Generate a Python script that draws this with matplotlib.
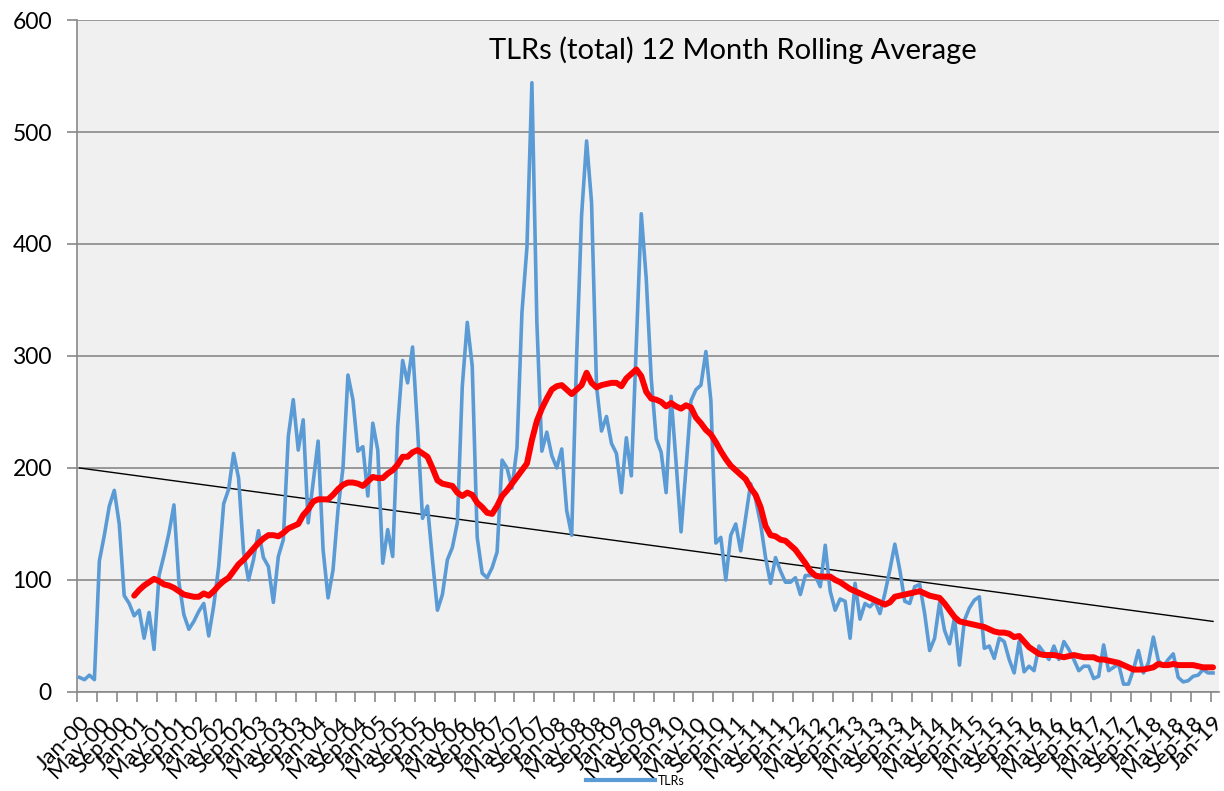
import numpy as np
import matplotlib.pyplot as plt
from matplotlib.lines import Line2D

plt.rcParams['font.family'] = ['Lato', 'DejaVu Sans']

# monthly TLRs totals, Jan-00 .. Jan-19
tlrs_2000 = [13, 11, 15, 11, 117, 140, 166, 180, 150, 86, 79, 68]
tlrs_2001 = [73, 48, 71, 38, 104, 122, 142, 167, 98, 69, 56, 63]
tlrs_2002 = [72, 79, 50, 77, 112, 168, 181, 213, 191, 125, 100, 118]
tlrs_2003 = [144, 120, 112, 80, 121, 136, 228, 261, 216, 243, 151, 187]
tlrs_2004 = [224, 127, 84, 109, 163, 200, 283, 261, 215, 219, 175, 240]
tlrs_2005 = [216, 115, 145, 121, 237, 296, 276, 308, 235, 155, 166, 118]
tlrs_2006 = [73, 87, 118, 129, 151, 273, 330, 291, 138, 106, 102, 111]
tlrs_2007 = [125, 207, 200, 182, 218, 339, 397, 544, 330, 215, 232, 211]
tlrs_2008 = [200, 217, 162, 140, 300, 426, 492, 437, 273, 233, 246, 222]
tlrs_2009 = [213, 178, 227, 193, 310, 427, 369, 280, 226, 214, 178, 264]
tlrs_2010 = [205, 143, 200, 260, 270, 274, 304, 260, 133, 138, 100, 140]
tlrs_2011 = [150, 126, 156, 186, 172, 150, 120, 97, 120, 108, 98, 98]
tlrs_2012 = [102, 87, 104, 104, 104, 94, 131, 90, 73, 83, 81, 48]
tlrs_2013 = [97, 65, 79, 76, 81, 70, 88, 109, 132, 109, 81, 79]
tlrs_2014 = [94, 96, 70, 37, 48, 80, 55, 43, 66, 24, 64, 75]
tlrs_2015 = [82, 85, 39, 41, 30, 48, 45, 29, 17, 45, 18, 23]
tlrs_2016 = [19, 41, 35, 29, 41, 29, 45, 38, 29, 19, 23, 23]
tlrs_2017 = [12, 14, 42, 19, 22, 25, 7, 7, 20, 37, 17, 26]
tlrs_2018 = [49, 28, 23, 29, 34, 13, 9, 10, 14, 15, 20, 17]
tlrs_2019 = [17]

# 12 month rolling average, starts Dec-00
roll_2000 = [86]
roll_2001 = [91, 95, 98, 101, 99, 96, 95, 93, 90, 87, 86, 85]
roll_2002 = [85, 88, 86, 90, 95, 99, 102, 108, 114, 118, 123, 128]
roll_2003 = [133, 137, 140, 140, 139, 142, 146, 148, 150, 158, 163, 170]
roll_2004 = [172, 172, 172, 176, 181, 185, 187, 187, 186, 184, 188, 192]
roll_2005 = [191, 191, 195, 198, 203, 210, 210, 214, 216, 213, 210, 200]
roll_2006 = [189, 186, 185, 184, 178, 175, 178, 176, 169, 165, 160, 159]
roll_2007 = [166, 175, 180, 186, 192, 198, 204, 225, 242, 253, 262, 270]
roll_2008 = [273, 274, 270, 266, 270, 274, 285, 276, 272, 274, 275, 276]
roll_2009 = [276, 273, 280, 284, 288, 282, 268, 262, 261, 259, 255, 258]
roll_2010 = [255, 253, 256, 254, 245, 240, 234, 230, 223, 215, 208, 202]
roll_2011 = [198, 194, 190, 182, 176, 165, 148, 140, 139, 136, 135, 131]
roll_2012 = [127, 121, 115, 108, 104, 103, 103, 103, 100, 98, 95, 92]
roll_2013 = [90, 88, 86, 84, 82, 80, 78, 80, 85, 86, 87, 88]
roll_2014 = [89, 90, 88, 86, 85, 84, 79, 73, 67, 63, 62, 61]
roll_2015 = [60, 59, 58, 56, 54, 53, 53, 52, 49, 50, 45, 40]
roll_2016 = [37, 34, 33, 33, 33, 32, 31, 32, 33, 32, 31, 31]
roll_2017 = [31, 29, 29, 28, 27, 26, 24, 22, 20, 20, 20, 21]
roll_2018 = [22, 25, 24, 24, 25, 24, 24, 24, 24, 23, 22, 22]
roll_2019 = [22]

# linear trendline end values
trend_start, trend_end = 200, 63

tick_labels = [f'{m}-{y:02d}' for y in range(19) for m in ('Jan', 'May', 'Sep')] + ['Jan-19']

tlrs = (tlrs_2000 + tlrs_2001 + tlrs_2002 + tlrs_2003 + tlrs_2004 + tlrs_2005
        + tlrs_2006 + tlrs_2007 + tlrs_2008 + tlrs_2009 + tlrs_2010 + tlrs_2011
        + tlrs_2012 + tlrs_2013 + tlrs_2014 + tlrs_2015 + tlrs_2016 + tlrs_2017
        + tlrs_2018 + tlrs_2019)
roll = (roll_2000 + roll_2001 + roll_2002 + roll_2003 + roll_2004 + roll_2005
        + roll_2006 + roll_2007 + roll_2008 + roll_2009 + roll_2010 + roll_2011
        + roll_2012 + roll_2013 + roll_2014 + roll_2015 + roll_2016 + roll_2017
        + roll_2018 + roll_2019)

x = np.arange(len(tlrs))
x_roll = np.arange(len(tlrs) - len(roll), len(tlrs))

grid_col = '#898989'

fig = plt.figure(figsize=(12.24, 7.91), dpi=100)
ax = fig.add_axes([0.0629, 0.1252, 0.9330, 0.8495])
ax.set_facecolor('#F0F0F0')

ax.plot(x, tlrs, color='#5B9BD5', lw=2.6, solid_joinstyle='round', zorder=3)
ax.plot(x_roll, roll, color='#FF0000', lw=4.3, solid_joinstyle='round',
        solid_capstyle='round', zorder=4)
ax.plot([x[0], x[-1]], [trend_start, trend_end], color='black', lw=1.0, zorder=2)

ax.set_ylim(0, 600)
ax.set_xlim(-0.5, len(tlrs) + 0.2)
ax.set_yticks(range(0, 601, 100))
ax.yaxis.grid(True, color=grid_col, lw=1.2)
ax.set_axisbelow(True)

for s in ('top', 'right'):
    ax.spines[s].set_visible(False)
for s in ('left', 'bottom'):
    ax.spines[s].set_color(grid_col)
    ax.spines[s].set_linewidth(1.2)

ax.tick_params(axis='y', length=7, width=1.2, color=grid_col, labelsize=16.5, pad=11)

ax.set_xticks(np.arange(0, len(tlrs), 4))
ax.set_xticklabels(tick_labels, rotation=45, ha='right', va='top',
                   rotation_mode='anchor', fontsize=16)
ax.tick_params(axis='x', which='major', length=0, pad=15)
ax.set_xticks(np.arange(-0.5, len(tlrs), 4), minor=True)
ax.tick_params(axis='x', which='minor', length=7, width=1.2, color=grid_col)

fig.text(0.599, 0.937, 'TLRs (total) 12 Month Rolling Average',
         ha='center', va='center', fontsize=21)

handle = Line2D([], [], color='#5B9BD5', lw=3)
fig.legend([handle], ['TLRs'], loc='center', bbox_to_anchor=(0.519, 0.013),
           frameon=False, fontsize=9, handlelength=5.5, handletextpad=0.2)

fig.savefig('out.png', dpi=100)
